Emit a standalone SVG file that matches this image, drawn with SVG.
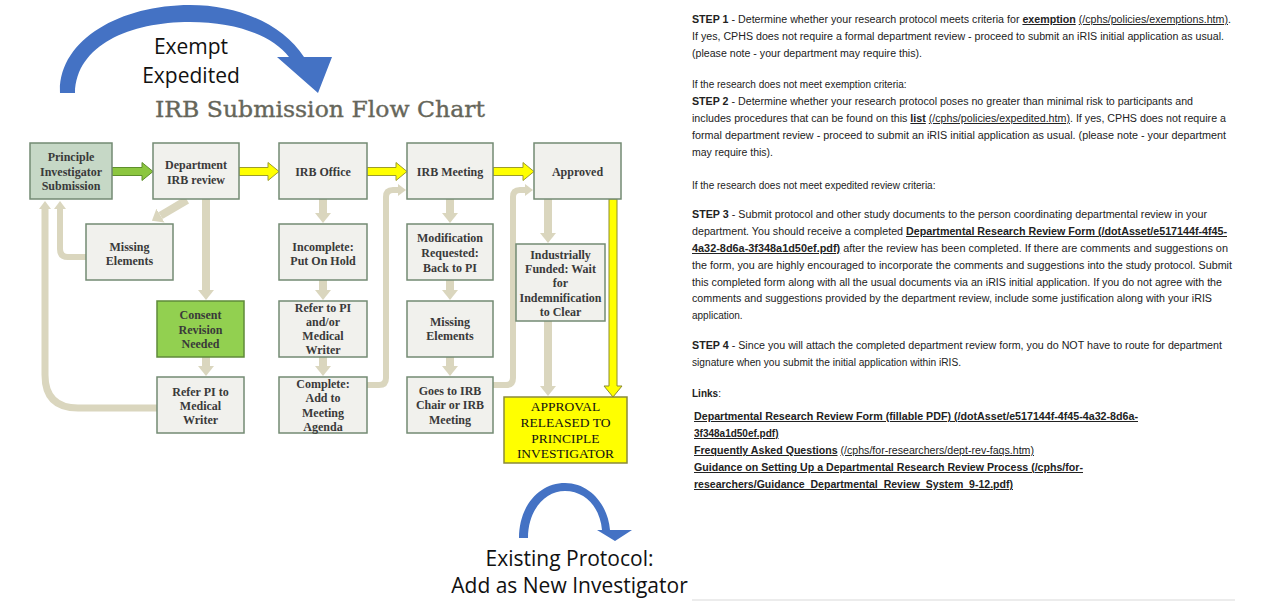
<svg xmlns="http://www.w3.org/2000/svg" width="1280" height="607" viewBox="0 0 1280 607">
<style>
.box{fill:#f1f1ed;stroke:#738a73;stroke-width:1.5}
.bt{font-family:"Liberation Serif",serif;font-weight:bold;font-size:12px;fill:#3a3a3a;text-anchor:middle}
.conn{fill:none;stroke:#dad6be;stroke-width:8}
.thin{fill:none;stroke:#dad6be;stroke-width:6}
.rt{font-family:"Liberation Sans",Arial,sans-serif;font-size:10px;fill:#222}
.b{font-weight:bold}
.u{text-decoration:underline}
.cal{font-family:"Open Sans","Noto Sans",sans-serif;font-size:21px;fill:#111;text-anchor:middle}
.blue{fill:#4472c4}
.ap{font-family:"Liberation Serif",serif;font-size:13.5px;fill:#111;text-anchor:middle}
</style>
<defs>
<marker id="hb" markerUnits="userSpaceOnUse" markerWidth="10" markerHeight="16" refX="0" refY="8" orient="auto" viewBox="0 0 10 16"><path d="M0,0 L10,8 L0,16Z" fill="#dad6be"/></marker>
<marker id="hs" markerUnits="userSpaceOnUse" markerWidth="8" markerHeight="12" refX="0" refY="6" orient="auto" viewBox="0 0 8 12"><path d="M0,0 L8,6 L0,12Z" fill="#dad6be"/></marker>
</defs>
<rect width="1280" height="607" fill="#ffffff"/>

<!-- top blue arrow -->
<g id="exempt-arrow">
<path class="blue" d="M60,93 C58,40 120,5 190,5 C240,5 283,25 304,57 L332,57 L318,93 L277,57 L289,57 C272,35 235,22 190,22 C130,22 76,45 75,93 Z"/>
<text class="cal" x="191" y="54">Exempt</text>
<text class="cal" x="191" y="83">Expedited</text>
</g>

<text x="155" y="117" font-family="'DejaVu Serif','Liberation Serif',serif" font-size="21.5" fill="#66665a" stroke="#66665a" stroke-width="0.35" textLength="330" lengthAdjust="spacingAndGlyphs">IRB Submission Flow Chart</text>

<!-- connectors -->
<g id="connectors">
<polygon points="112,167.5 142,167.5 142,162.5 153,171.5 142,180.5 142,175.5 112,175.5" fill="#8cc63f" stroke="#5e8f2c" stroke-width="1"/>
<polygon points="239,167.5 268,167.5 268,162.5 279,171.5 268,180.5 268,175.5 239,175.5" fill="#ffff00" stroke="#9c9c2c" stroke-width="1"/>
<polygon points="367,167.5 396,167.5 396,162.5 407,171.5 396,180.5 396,175.5 367,175.5" fill="#ffff00" stroke="#9c9c2c" stroke-width="1"/>
<polygon points="493,167.5 523,167.5 523,162.5 534,171.5 523,180.5 523,175.5 493,175.5" fill="#ffff00" stroke="#9c9c2c" stroke-width="1"/>
<polygon points="609,199 617,199 617,386 622,386 613,397 604,386 609,386" fill="#ffff00" stroke="#8c8c2c" stroke-width="1"/>

<line class="conn" x1="187" y1="200" x2="160.5" y2="215.6" marker-end="url(#hb)"/>
<path class="thin" d="M86,257 L68,257 Q60,257 60,249 L60,209" marker-end="url(#hs)"/>
<path class="conn" style="stroke-width:7" d="M157,408 L78,408 Q45,408 45,375 L45,209" marker-end="url(#hs)"/>
<line class="conn" x1="206" y1="199" x2="206" y2="290" marker-end="url(#hb)"/>
<line class="conn" x1="206" y1="357" x2="206" y2="366" marker-end="url(#hb)"/>
<line class="conn" x1="323" y1="199" x2="323" y2="213" marker-end="url(#hb)"/>
<line class="conn" x1="323" y1="280" x2="323" y2="290" marker-end="url(#hb)"/>
<line class="conn" x1="323" y1="357" x2="323" y2="366" marker-end="url(#hb)"/>
<path class="thin" d="M367,385 L379,385 Q386,385 386,378 L386,197 Q386,190 393,190 L398,190" marker-end="url(#hs)"/>
<line class="conn" x1="450" y1="199" x2="450" y2="213" marker-end="url(#hb)"/>
<line class="conn" x1="450" y1="280" x2="450" y2="290" marker-end="url(#hb)"/>
<line class="conn" x1="450" y1="357" x2="450" y2="366" marker-end="url(#hb)"/>
<path class="thin" d="M493,385 L506,385 Q513,385 513,378 L513,197 Q513,190 520,190 L525,190" marker-end="url(#hs)"/>
<line class="conn" x1="548" y1="199" x2="548" y2="233" marker-end="url(#hb)"/>
<line class="conn" x1="548" y1="321" x2="548" y2="386" marker-end="url(#hb)"/>
</g>

<g id="pi-submission">
<rect x="30" y="143" width="82" height="56" fill="#c6d8c6" stroke="#738a73" stroke-width="1.5"/>
<text class="bt" x="71" y="161">Principle</text>
<text class="bt" x="71" y="175.5">Investigator</text>
<text class="bt" x="71" y="190">Submission</text>
</g>
<g id="dept-review">
<rect class="box" x="153" y="143" width="86" height="56"/>
<text class="bt" x="196" y="169">Department</text>
<text class="bt" x="196" y="183.5">IRB review</text>
</g>
<g id="irb-office">
<rect class="box" x="279" y="143" width="88" height="56"/>
<text class="bt" x="323" y="175.5">IRB Office</text>
</g>
<g id="irb-meeting">
<rect class="box" x="407" y="143" width="86" height="56"/>
<text class="bt" x="450" y="175.5">IRB Meeting</text>
</g>
<g id="approved">
<rect class="box" x="534" y="143" width="87" height="56"/>
<text class="bt" x="577.5" y="175.5">Approved</text>
</g>
<g id="missing-elements-1">
<rect class="box" x="86" y="224" width="87" height="56"/>
<text class="bt" x="129.5" y="251">Missing</text>
<text class="bt" x="129.5" y="264.5">Elements</text>
</g>
<g id="incomplete">
<rect class="box" x="279" y="224" width="88" height="56"/>
<text class="bt" x="323" y="251">Incomplete:</text>
<text class="bt" x="323" y="264.5">Put On Hold</text>
</g>
<g id="modification">
<rect class="box" x="407" y="224" width="86" height="56"/>
<text class="bt" x="450" y="242">Modification</text>
<text class="bt" x="450" y="257">Requested:</text>
<text class="bt" x="450" y="271.5">Back to PI</text>
</g>
<g id="industrially-funded">
<rect class="box" x="516" y="244" width="89" height="77"/>
<text class="bt" x="560.5" y="259">Industrially</text>
<text class="bt" x="560.5" y="273">Funded: Wait</text>
<text class="bt" x="560.5" y="287">for</text>
<text class="bt" x="560.5" y="302">Indemnification</text>
<text class="bt" x="560.5" y="316">to Clear</text>
</g>
<g id="consent-revision">
<rect x="157" y="301" width="87" height="56" fill="#92d050" stroke="#5f8a3a" stroke-width="1.5"/>
<text class="bt" x="200.5" y="319">Consent</text>
<text class="bt" x="200.5" y="333.5">Revision</text>
<text class="bt" x="200.5" y="347.5">Needed</text>
</g>
<g id="refer-pi-medical">
<rect class="box" x="279" y="301" width="88" height="56"/>
<text class="bt" x="323" y="312">Refer to PI</text>
<text class="bt" x="323" y="326">and/or</text>
<text class="bt" x="323" y="340">Medical</text>
<text class="bt" x="323" y="354">Writer</text>
</g>
<g id="missing-elements-2">
<rect class="box" x="407" y="301" width="86" height="56"/>
<text class="bt" x="450" y="326">Missing</text>
<text class="bt" x="450" y="340">Elements</text>
</g>
<g id="refer-pi-writer">
<rect class="box" x="157" y="377" width="87" height="56"/>
<text class="bt" x="200.5" y="396">Refer PI to</text>
<text class="bt" x="200.5" y="410">Medical</text>
<text class="bt" x="200.5" y="424">Writer</text>
</g>
<g id="complete-agenda">
<rect class="box" x="279" y="377" width="88" height="56"/>
<text class="bt" x="323" y="388">Complete:</text>
<text class="bt" x="323" y="402">Add to</text>
<text class="bt" x="323" y="417">Meeting</text>
<text class="bt" x="323" y="431">Agenda</text>
</g>
<g id="goes-to-chair">
<rect class="box" x="407" y="377" width="86" height="56"/>
<text class="bt" x="450" y="395">Goes to IRB</text>
<text class="bt" x="450" y="409">Chair or IRB</text>
<text class="bt" x="450" y="424">Meeting</text>
</g>
<g id="approval-released">
<rect x="504" y="397" width="123" height="66" fill="#ffff00" stroke="#8a8a3a" stroke-width="1.5"/>
<text class="ap" x="565.5" y="411">APPROVAL</text>
<text class="ap" x="565.5" y="427">RELEASED TO</text>
<text class="ap" x="565.5" y="443">PRINCIPLE</text>
<text class="ap" x="565.5" y="458">INVESTIGATOR</text>
</g>

<!-- bottom blue arrow -->
<g id="existing-protocol">
<path class="blue" d="M519,538 C519,505 540,483 565,483 C590,483 608,505 610,530 L632,530 L615,541 L597,530 L602,530 C600,507 585,491 565,491 C545,491 528,510 528,538 Z"/>
<text class="cal" x="569.5" y="566">Existing Protocol:</text>
<text class="cal" x="569.5" y="593">Add as New Investigator</text>
</g>

<!-- right text -->
<g id="instructions" class="rt">
<text x="692" y="23" textLength="539" lengthAdjust="spacingAndGlyphs"><tspan class="b">STEP 1</tspan> - Determine whether your research protocol meets criteria for <tspan class="b u">exemption</tspan> <tspan class="u">(/cphs/policies/exemptions.htm)</tspan>.</text>
<text x="692" y="40" textLength="532" lengthAdjust="spacingAndGlyphs">If yes, CPHS does not require a formal department review - proceed to submit an iRIS initial application as usual.</text>
<text x="692" y="57" textLength="230" lengthAdjust="spacingAndGlyphs">(please note - your department may require this).</text>
<text x="692" y="88">If the research does not meet exemption criteria:</text>
<text x="692" y="105" textLength="501" lengthAdjust="spacingAndGlyphs"><tspan class="b">STEP 2</tspan> - Determine whether your research protocol poses no greater than minimal risk to participants and</text>
<text x="692" y="122" textLength="534" lengthAdjust="spacingAndGlyphs">includes procedures that can be found on this <tspan class="b u">list</tspan> <tspan class="u">(/cphs/policies/expedited.htm)</tspan>. If yes, CPHS does not require a</text>
<text x="692" y="139" textLength="534" lengthAdjust="spacingAndGlyphs">formal department review - proceed to submit an iRIS initial application as usual. (please note - your department</text>
<text x="692" y="156" textLength="81" lengthAdjust="spacingAndGlyphs">may require this).</text>
<text x="692" y="189">If the research does not meet expedited review criteria:</text>
<text x="692" y="218" textLength="515" lengthAdjust="spacingAndGlyphs"><tspan class="b">STEP 3</tspan> - Submit protocol and other study documents to the person coordinating departmental review in your</text>
<text x="692" y="235" textLength="535" lengthAdjust="spacingAndGlyphs">department. You should receive a completed <tspan class="b u">Departmental Research Review Form (/dotAsset/e517144f-4f45-</tspan></text>
<text x="692" y="252" textLength="536" lengthAdjust="spacingAndGlyphs"><tspan class="b u">4a32-8d6a-3f348a1d50ef.pdf)</tspan> after the review has been completed. If there are comments and suggestions on</text>
<text x="692" y="269" textLength="540" lengthAdjust="spacingAndGlyphs">the form, you are highly encouraged to incorporate the comments and suggestions into the study protocol. Submit</text>
<text x="692" y="286" textLength="530" lengthAdjust="spacingAndGlyphs">this completed form along with all the usual documents via an iRIS initial application. If you do not agree with the</text>
<text x="692" y="302" textLength="520" lengthAdjust="spacingAndGlyphs">comments and suggestions provided by the department review, include some justification along with your iRIS</text>
<text x="692" y="319">application.</text>
<text x="692" y="349" textLength="530" lengthAdjust="spacingAndGlyphs"><tspan class="b">STEP 4</tspan> - Since you will attach the completed department review form, you do NOT have to route for department</text>
<text x="692" y="366" textLength="269" lengthAdjust="spacingAndGlyphs">signature when you submit the initial application within iRIS.</text>
<text x="692" y="397" class="b">Links<tspan font-weight="normal">:</tspan></text>
<text x="694" y="420" class="b u" textLength="444" lengthAdjust="spacingAndGlyphs">Departmental Research Review Form (fillable PDF) (/dotAsset/e517144f-4f45-4a32-8d6a-</text>
<text x="694" y="437" class="b u">3f348a1d50ef.pdf)</text>
<text x="694" y="454" textLength="340" lengthAdjust="spacingAndGlyphs"><tspan class="b u">Frequently Asked Questions</tspan> <tspan class="u">(/cphs/for-researchers/dept-rev-faqs.htm)</tspan></text>
<text x="694" y="471" class="b u" textLength="389" lengthAdjust="spacingAndGlyphs">Guidance on Setting Up a Departmental Research Review Process (/cphs/for-</text>
<text x="694" y="488" class="b u" textLength="319" lengthAdjust="spacingAndGlyphs">researchers/Guidance_Departmental_Review_System_9-12.pdf)</text>
</g>
<line x1="692" y1="600" x2="1235" y2="600" stroke="#e6e6e6" stroke-width="1.5"/>
</svg>
